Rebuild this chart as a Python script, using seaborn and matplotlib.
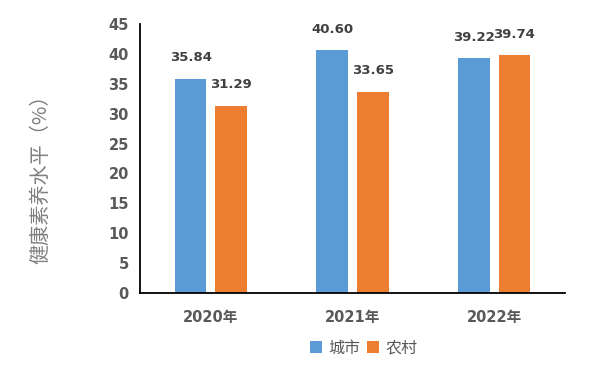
import matplotlib
matplotlib.use("Agg")
import matplotlib.pyplot as plt
import pandas as pd
import seaborn as sns

# Data
years = ["2020年", "2021年", "2022年"]
urban = [35.84, 40.60, 39.22]
rural = [31.29, 33.65, 39.74]
series_names = ["城市", "农村"]
colors = ["#5B9BD5", "#ED7D31"]

df = pd.DataFrame({
    "year": years * 2,
    "value": urban + rural,
    "area": [series_names[0]] * len(years) + [series_names[1]] * len(years),
})

sns.set_style("white")
plt.rcParams["font.family"] = ["DejaVu Sans", "Noto Sans CJK SC"]

fig = plt.figure(figsize=(5.92, 3.8), dpi=100)
ax = fig.add_axes([0.2365, 0.229, 0.718, 0.708])

sns.barplot(data=df, x="year", y="value", hue="area", palette=colors,
            saturation=1, width=0.572, gap=0.22, linewidth=0,
            ax=ax, legend=True)

# Value labels
for container in ax.containers:
    ax.bar_label(container, fmt="%.2f", padding=10.5, fontsize=9.5,
                 fontweight="bold", color="#404040")

ax.set_ylim(0, 45)
ax.set_yticks(range(0, 46, 5))
ax.set_xlim(-0.5, 2.5)
ax.set_xlabel("")
ax.set_ylabel("健康素养水平（%）", fontsize=14.5, color="#7f7f7f",
              family=["Noto Sans CJK SC", "DejaVu Sans"])
ax.yaxis.set_label_coords(-0.21, 0.44)

ax.tick_params(axis="y", length=0, pad=8, labelsize=10.5, labelcolor="#595959")
ax.tick_params(axis="x", length=0, pad=12, labelsize=10.5, labelcolor="#595959")
for lab in ax.get_yticklabels() + ax.get_xticklabels():
    lab.set_fontweight("bold")

for side in ["top", "right"]:
    ax.spines[side].set_visible(False)
for side in ["left", "bottom"]:
    ax.spines[side].set_color("black")
    ax.spines[side].set_linewidth(1.3)

# Legend at the bottom
handles, labels = ax.get_legend_handles_labels()
ax.get_legend().remove()
fig.legend(handles, labels, loc="center", bbox_to_anchor=(0.614, 0.084),
           ncol=2, frameon=False, handlelength=0.75, handleheight=0.75,
           handletextpad=0.4, columnspacing=0.4,
           prop={"family": "Noto Sans CJK SC", "size": 11.5}, labelcolor="#595959")

fig.savefig("out.png", dpi=100)
plt.close(fig)
